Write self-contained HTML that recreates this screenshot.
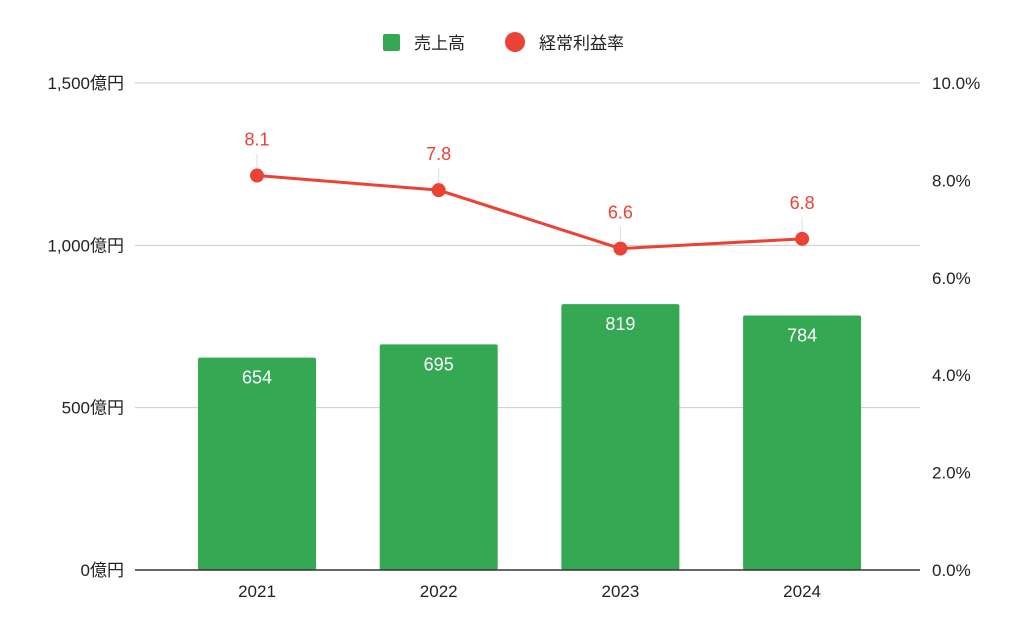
<!DOCTYPE html>
<html><head><meta charset="utf-8"><style>
body{margin:0;background:#fff;}
svg text{font-family:"Liberation Sans","Noto Sans CJK JP",sans-serif;}
</style></head><body>
<svg id="chart" width="1024" height="633"></svg>
<script>
const categories=["2021","2022","2023","2024"];
const sales=[654,695,819,784];
const margin=[8.1,7.8,6.6,6.8];
const leftTicks=[0,500,1000,1500];
const rightTicks=[0,2,4,6,8,10];
const NS="http://www.w3.org/2000/svg";
const svg=document.getElementById('chart');
const y0=570,yTop=83;
const yL=v=>y0-(v/1500)*(y0-yTop);
const yR=v=>y0-(v/10)*(y0-yTop);
const xC=i=>257+i*181.7;
function mk(tag,attrs,txt){const e=document.createElementNS(NS,tag);for(const k in attrs)e.setAttribute(k,attrs[k]);if(txt!=null)e.textContent=txt;svg.appendChild(e);return e;}
leftTicks.forEach(t=>{
 if(t>0){const g=mk('line',{x1:135,x2:920,y1:yL(t),y2:yL(t),stroke:'#ccc','stroke-width':1});
 
 }
 const l=mk('text',{x:124,y:yL(t)+6,'text-anchor':'end','font-size':17,fill:'#222'},t.toLocaleString('en-US')+'億円');
 
 
});
rightTicks.forEach(t=>{
 const l=mk('text',{x:932,y:yR(t)+6,'font-size':17,fill:'#222'},t.toFixed(1)+'%');
 
 
});
sales.forEach((v,i)=>{
 const b=mk('rect',{x:xC(i)-59,y:yL(v),width:118,height:y0-yL(v),fill:'#34a853',rx:2});
 
 
 const t=mk('text',{x:xC(i),y:yL(v)+26,'text-anchor':'middle','font-size':18,fill:'#fff'},String(v));
 
 
 const c=mk('text',{x:xC(i),y:597,'text-anchor':'middle','font-size':17,fill:'#222'},categories[i]);
 
 
});
const ax=mk('line',{x1:135,x2:920,y1:y0,y2:y0,stroke:'#333','stroke-width':1.5});


const pts=margin.map((v,i)=>xC(i)+','+yR(v)).join(' ');
const pl=mk('polyline',{points:pts,fill:'none',stroke:'#ea4335','stroke-width':3});


margin.forEach((v,i)=>{
 const ln=mk('line',{x1:xC(i),x2:xC(i),y1:yR(v)-22,y2:yR(v)-6,stroke:'#ddd','stroke-width':1});
 
 
 const p=mk('circle',{cx:xC(i),cy:yR(v),r:7,fill:'#ea4335'});
 
 
 const t=mk('text',{x:xC(i),y:yR(v)-30,'text-anchor':'middle','font-size':18,fill:'#ea4335'},v.toFixed(1));
 
 
});
const ls=mk('rect',{x:383,y:34,width:17,height:17,fill:'#34a853',rx:2});


const lt=mk('text',{x:414,y:49,'font-size':17,fill:'#222'},'売上高');


const lc=mk('circle',{cx:515,cy:42,r:10,fill:'#ea4335'});


const lt2=mk('text',{x:539,y:49,'font-size':17,fill:'#222'},'経常利益率');


</script>
</body></html>
